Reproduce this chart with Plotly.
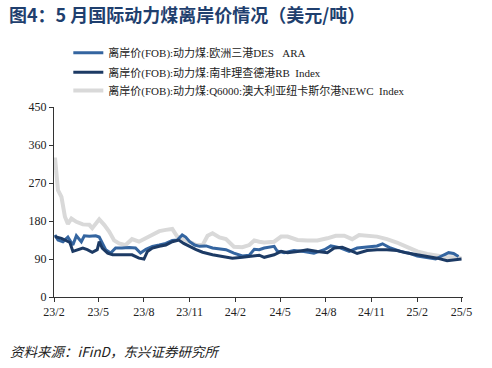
import plotly.graph_objects as go

# 欧洲三港DES ARA
ara_dates = ["2023-02-03","2023-02-09","2023-02-19","2023-03-01","2023-03-11","2023-03-18","2023-03-28","2023-04-03",
             "2023-04-13","2023-04-26","2023-05-03","2023-05-09","2023-05-16","2023-05-26","2023-06-05","2023-06-18",
             "2023-07-02","2023-07-15","2023-07-25","2023-08-05","2023-08-18","2023-09-01","2023-09-14","2023-09-27",
             "2023-10-07","2023-10-17","2023-10-24","2023-11-01","2023-11-11","2023-11-21","2023-12-04","2023-12-17",
             "2023-12-31","2024-01-13","2024-01-29","2024-02-15","2024-02-29","2024-03-10","2024-03-20","2024-03-30",
             "2024-04-19","2024-04-25","2024-05-09","2024-05-29","2024-06-18","2024-07-08","2024-07-29","2024-08-11",
             "2024-08-31","2024-09-17","2024-10-03","2024-10-23","2024-11-12","2024-11-23","2024-12-09","2024-12-29",
             "2025-01-15","2025-02-01","2025-02-21","2025-03-10","2025-03-27","2025-04-05","2025-04-15","2025-04-25"]
ara_vals = [147,135,131,142,123,145,131,145,
            144,145,142,129,112,104,116,116,
            117,116,104,113,120,123,127,134,
            135,147,142,131,123,120,121,116,
            113,112,104,97,99,113,112,116,
            120,109,105,110,108,104,112,121,
            116,108,116,118,121,126,116,108,
            104,97,94,90,100,105,103,96]

# 南非理查德港RB Index
rb_dates = ["2023-02-03","2023-02-16","2023-02-23","2023-03-05","2023-03-11","2023-03-21","2023-03-31","2023-04-09",
            "2023-04-19","2023-04-29","2023-05-03","2023-05-09","2023-05-20","2023-05-30","2023-06-12","2023-06-25",
            "2023-07-08","2023-07-22","2023-08-01","2023-08-08","2023-08-18","2023-09-01","2023-09-14","2023-09-27",
            "2023-10-10","2023-10-20","2023-10-31","2023-11-14","2023-11-27","2023-12-17","2024-01-06","2024-01-26",
            "2024-02-15","2024-03-07","2024-03-20","2024-03-30","2024-04-19","2024-05-03","2024-05-16","2024-06-05",
            "2024-06-25","2024-07-15","2024-08-04","2024-08-18","2024-09-03","2024-09-20","2024-10-03","2024-10-23",
            "2024-11-12","2024-12-02","2024-12-22","2025-01-12","2025-02-01","2025-02-21","2025-03-13","2025-04-02",
            "2025-04-22","2025-05-01"]
rb_vals = [143,139,135,129,108,112,116,112,
           106,112,131,116,104,100,100,100,
           100,92,90,108,116,120,123,131,
           135,127,120,112,106,100,96,92,
           94,97,99,94,100,108,105,108,
           112,108,105,116,118,110,103,110,
           112,112,110,104,100,96,92,86,
           88,90]

# Q6000:澳大利亚纽卡斯尔港NEWC Index
newc_dates = ["2023-02-01","2023-02-03","2023-02-09","2023-02-16","2023-02-23","2023-03-01","2023-03-08","2023-03-18",
              "2023-03-31","2023-04-13","2023-04-19","2023-05-03","2023-05-13","2023-05-23","2023-06-02","2023-06-12",
              "2023-06-25","2023-07-08","2023-07-22","2023-08-05","2023-08-18","2023-09-01","2023-09-14","2023-09-27",
              "2023-10-07","2023-10-17","2023-10-31","2023-11-14","2023-11-27","2023-12-07","2023-12-17","2023-12-31",
              "2024-01-13","2024-01-29","2024-02-15","2024-02-29","2024-03-10","2024-03-20","2024-03-30","2024-04-19",
              "2024-05-03","2024-05-16","2024-06-05","2024-06-25","2024-07-15","2024-08-04","2024-08-21","2024-09-07",
              "2024-09-23","2024-10-07","2024-10-23","2024-11-12","2024-12-02","2024-12-22","2025-01-12","2025-02-01",
              "2025-02-21","2025-03-13","2025-04-02","2025-04-22","2025-05-01"]
newc_vals = [300,330,253,237,190,173,186,178,
             172,171,163,184,171,155,134,127,
             123,137,131,139,147,156,159,161,
             143,139,131,123,123,145,151,141,
             137,119,118,123,134,131,129,131,
             143,143,135,134,134,139,145,145,
             137,147,146,143,137,129,118,108,
             102,97,94,94,91]

names = ["离岸价(FOB):动力煤:欧洲三港DES\u00a0\u00a0\u00a0ARA",
         "离岸价(FOB):动力煤:南非理查德港RB\u00a0\u00a0Index",
         "离岸价(FOB):动力煤:Q6000:澳大利亚纽卡斯尔港NEWC\u00a0\u00a0Index"]

tick_vals = ["2023-02-01","2023-05-01","2023-08-01","2023-11-01","2024-02-01","2024-05-01",
             "2024-08-01","2024-11-01","2025-02-01","2025-05-01"]
tick_text = ["23/2","23/5","23/8","23/11","24/2","24/5","24/8","24/11","25/2","25/5"]
y_ticks = [0, 90, 180, 270, 360, 450]

font_main = "Liberation Serif, Noto Sans CJK SC, serif"

fig = go.Figure()
fig.add_trace(go.Scatter(x=newc_dates, y=newc_vals, name=names[2], mode="lines",
                         line=dict(color="#D9D9D9", width=4), legend="legend3"))
fig.add_trace(go.Scatter(x=ara_dates, y=ara_vals, name=names[0], mode="lines",
                         line=dict(color="#3465A0", width=3), legend="legend"))
fig.add_trace(go.Scatter(x=rb_dates, y=rb_vals, name=names[1], mode="lines",
                         line=dict(color="#1C3A64", width=3), legend="legend2"))

leg_common = dict(x=0.035, xanchor="left", yanchor="middle",
                  font=dict(size=11, color="#222222", family=font_main),
                  bgcolor="rgba(0,0,0,0)", borderwidth=0)

fig.update_layout(
    width=492, height=368,
    margin=dict(l=54, r=29, t=107, b=71, autoexpand=False),
    paper_bgcolor="white", plot_bgcolor="white",
    font=dict(family=font_main, size=12, color="#222222"),
    showlegend=True,
    legend=dict(y=1.286, **leg_common),
    legend2=dict(y=1.183, **leg_common),
    legend3=dict(y=1.087, **leg_common),
    annotations=[
        dict(text="<b>图4：5 月国际动力煤离岸价情况（美元/吨）</b>", xref="paper", yref="paper",
             x=-0.115, y=1.49, xanchor="left", yanchor="middle", showarrow=False,
             font=dict(family="Noto Sans CJK SC, sans-serif", size=18, color="#1F3F6E")),
        dict(text="<i>资料来源：iFinD，东兴证券研究所</i>", xref="paper", yref="paper",
             x=-0.1125, y=-0.282, xanchor="left", yanchor="middle", showarrow=False,
             font=dict(family="Noto Sans CJK SC, sans-serif", size=13.5, color="#222222")),
    ],
)
fig.update_xaxes(type="date", range=["2023-02-01", "2025-05-04"], tickvals=tick_vals, ticktext=tick_text,
                 showline=True, linecolor="#333333", linewidth=1, ticks="outside", ticklen=4,
                 tickcolor="#333333", showgrid=False, zeroline=False, tickfont=dict(size=12))
fig.update_yaxes(range=[0, 450], tickvals=y_ticks, showline=True, linecolor="#333333", linewidth=1,
                 ticks="outside", ticklen=4, tickcolor="#333333", showgrid=False, zeroline=False,
                 tickfont=dict(size=12))

# remove the default 8px page margin so the figure fills the window exactly
fig.write_html("out.html", config={"displayModeBar": False},
               post_script="document.body.style.margin='0';")
